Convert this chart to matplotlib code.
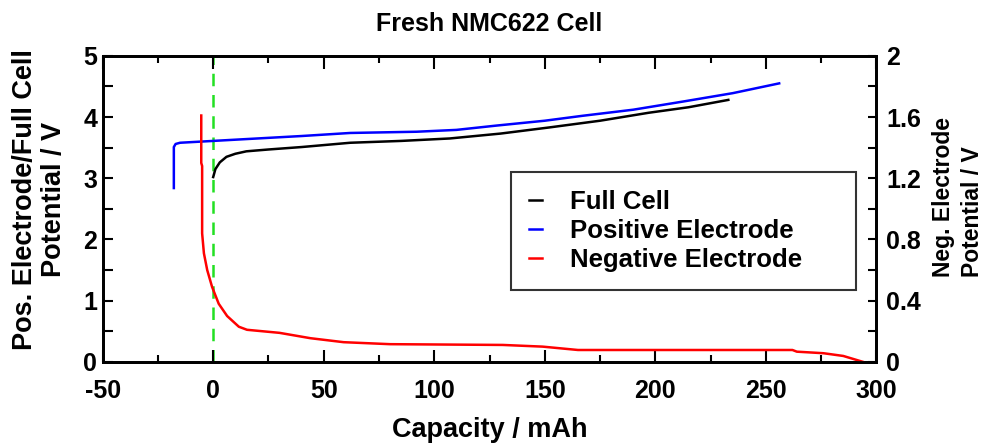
import numpy as np
import matplotlib
matplotlib.use("Agg")
import matplotlib.pyplot as plt
from matplotlib.ticker import MultipleLocator, FuncFormatter

plt.rcParams['font.family'] = ['Liberation Sans', 'DejaVu Sans']
plt.rcParams['font.weight'] = 'bold'
plt.rcParams['axes.unicode_minus'] = False

# Full cell (left axis)
full_x = [0, 1, 3, 6, 10, 15, 25, 40, 62, 85, 107, 130, 152, 175, 197, 215, 233]
full_v = [3.02, 3.15, 3.26, 3.35, 3.40, 3.44, 3.47, 3.51, 3.58, 3.61, 3.65, 3.73,
          3.83, 3.94, 4.07, 4.16, 4.28]

# Positive electrode (left axis)
pos_x = [-17.8, -17.8, -17, -15, -5, 0, 20, 40, 62, 92, 110, 128, 150, 167, 190,
         212, 235, 256]
pos_v = [2.84, 3.51, 3.56, 3.58, 3.60, 3.61, 3.65, 3.69, 3.74, 3.76, 3.79, 3.86,
         3.94, 4.02, 4.12, 4.25, 4.39, 4.55]

# Negative electrode (right axis)
neg_x = [-5.4, -5.4, -5.0, -5.0, -4.2, -2.7, -0.5, 2.5, 6.3, 11.6, 15.3, 30, 44,
         59, 80, 131, 149, 165, 262, 264, 276, 285, 294]
neg_v = [1.61, 1.30, 1.28, 0.84, 0.71, 0.60, 0.49, 0.38, 0.30, 0.23, 0.21, 0.19,
         0.155, 0.129, 0.116, 0.111, 0.10, 0.078, 0.078, 0.067, 0.057, 0.039, 0.0]

fs_tick = 18
fs_lab = 19.5

fig = plt.figure(figsize=(9.87, 4.43), dpi=100)
ax = fig.add_axes([0.104, 0.183, 0.784, 0.691])
ax2 = ax.twinx()

ax.axvline(0, color='#22e022', lw=1.8, dashes=(5, 3.5), zorder=1)
h1, = ax.plot(full_x, full_v, color='black', lw=1.8, label='Full Cell')
h2, = ax.plot(pos_x, pos_v, color='#0000ff', lw=1.8, label='Positive Electrode')
h3, = ax2.plot(neg_x, neg_v, color='#ff0000', lw=1.8, label='Negative Electrode')

ax.set_xlim(-50, 300)
ax.set_ylim(0, 5)
ax2.set_ylim(0, 2)

ax.xaxis.set_major_locator(MultipleLocator(50))
ax.xaxis.set_minor_locator(MultipleLocator(25))
ax.yaxis.set_major_locator(MultipleLocator(1))
ax.yaxis.set_minor_locator(MultipleLocator(0.5))
ax2.yaxis.set_major_locator(MultipleLocator(0.4))
ax2.yaxis.set_minor_locator(MultipleLocator(0.2))
ax2.yaxis.set_major_formatter(FuncFormatter(
    lambda v, p: f'{v:.0f}' if abs(v - round(v)) < 1e-6 else f'{v:.1f}'))

ax.tick_params(axis='x', which='both', direction='in', top=True, labelsize=fs_tick,
               width=1.5, pad=12)
ax.tick_params(axis='x', which='major', length=9)
ax.tick_params(axis='x', which='minor', length=5)
ax.tick_params(axis='y', which='both', direction='in', right=False, labelsize=fs_tick,
               width=1.5, length=7, pad=4)
ax2.tick_params(axis='y', which='both', direction='in', labelsize=fs_tick,
                width=1.5, length=6, pad=7)

for a in (ax, ax2):
    for s in a.spines.values():
        s.set_linewidth(2)

ax.set_xlabel('Capacity / mAh', fontsize=fs_lab, fontweight='bold')
ax.xaxis.set_label_coords(0.5, -0.18)
ax.set_ylabel('Pos. Electrode/Full Cell\nPotential / V', fontsize=fs_lab,
              fontweight='bold', linespacing=1.15)
ax.yaxis.set_label_coords(-0.046, 0.53)
ax2.set_ylabel('Neg. Electrode\nPotential / V', fontsize=16.5, fontweight='bold',
               rotation=90, multialignment='left', linespacing=1.3)
ax2.yaxis.set_label_coords(1.072, 0.54)
ax.set_title('Fresh NMC622 Cell', fontsize=fs_tick, fontweight='bold', pad=18)

leg = ax.legend(handles=[h1, h2, h3], loc='upper left',
                bbox_to_anchor=(0.528, 0.0, 0.445, 0.621), mode='expand',
                borderaxespad=0, fontsize=18.5, frameon=True, fancybox=False,
                handlelength=0.5, handletextpad=1.1, borderpad=0.7,
                labelspacing=0.2)
leg.get_frame().set_edgecolor('black')
leg.get_frame().set_linewidth(1.5)
for t in leg.get_texts():
    t.set_fontweight('bold')

plt.savefig('out.png', dpi=100)
